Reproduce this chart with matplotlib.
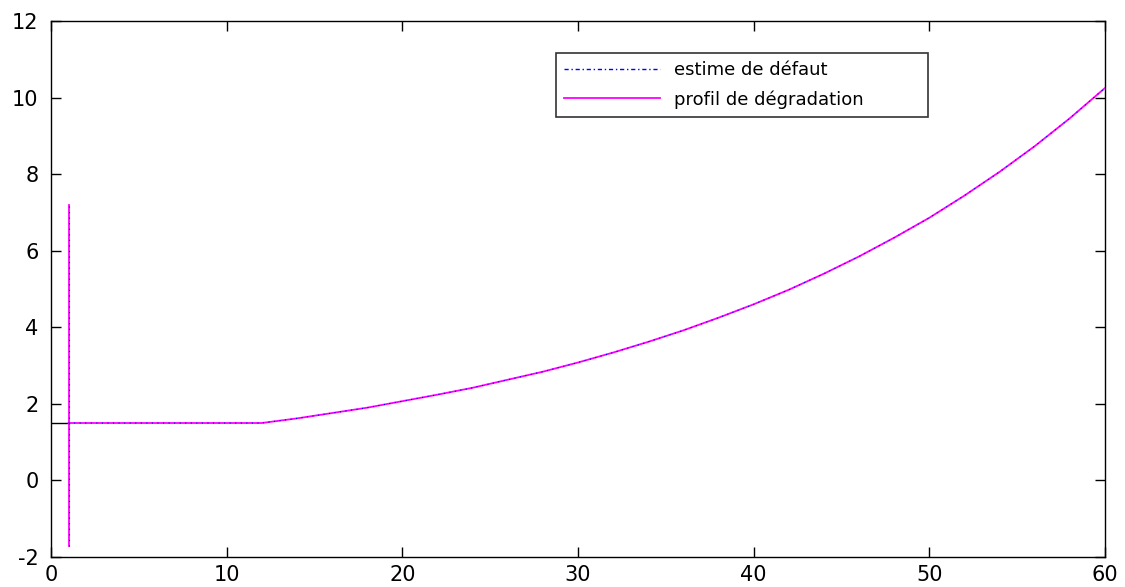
import matplotlib.pyplot as plt

plt.rcParams['axes.unicode_minus'] = False

# degradation profile: flat start, then growth up to t = 60
t_curve = [1, 12, 14, 16, 18, 20, 22, 24, 26, 28, 30, 32, 34, 36, 38,
           40, 42, 44, 46, 48, 50, 52, 54, 56, 58, 60]
y_curve = [1.50, 1.50, 1.62, 1.76, 1.90, 2.07, 2.24, 2.42, 2.63, 2.84, 3.08,
           3.34, 3.62, 3.92, 4.25, 4.60, 4.98, 5.40, 5.85, 6.34, 6.86,
           7.44, 8.06, 8.73, 9.46, 10.25]

# initial jump at t = 1
t_jump = [1, 1]
y_jump = [-1.7, 7.2]

# threshold reference segment
t_ref = [0, 1]
y_ref = [1.5, 1.5]

fig = plt.figure(figsize=(11.25, 5.87), dpi=100)
ax = fig.add_axes([0.0453, 0.0511, 0.9369, 0.9131])

ax.plot(t_ref, y_ref, color='black', linewidth=1.0, zorder=2)
ax.plot(t_jump, y_jump, color='magenta', linewidth=1.3, zorder=3)
ax.plot(t_jump, y_jump, color='blue', linewidth=0.8, linestyle=(0, (1, 4)), zorder=4)
prof, = ax.plot(t_curve, y_curve, color='magenta', linewidth=1.3, zorder=3)
est, = ax.plot(t_curve, y_curve, color='blue', linewidth=0.8,
               linestyle=(0, (1, 4)), zorder=4)
est_leg, = ax.plot([], [], color='blue', linewidth=1.0, linestyle=(0, (3, 2, 1, 2)))

ax.set_xlim(0, 60)
ax.set_ylim(-2, 12)
ax.set_xticks(range(0, 61, 10))
ax.set_yticks(range(-2, 13, 2))
ax.tick_params(direction='in', length=7, width=1, top=True, right=True,
               labelsize=15, pad=6)
ax.tick_params(axis='y', pad=9)
for s in ax.spines.values():
    s.set_linewidth(1.0)

leg = ax.legend([est_leg, prof], ['estime de défaut', 'profil de dégradation'],
                loc='upper left', mode='expand', borderaxespad=0,
                bbox_to_anchor=(0.479, 0.815, 0.353, 0.125),
                fontsize=13, frameon=True, fancybox=False, handlelength=5.3,
                borderpad=0.45, labelspacing=0.6, handletextpad=0.8)
leg.get_frame().set_edgecolor('black')
leg.get_frame().set_linewidth(1.2)

fig.savefig('out.png', dpi=100)
